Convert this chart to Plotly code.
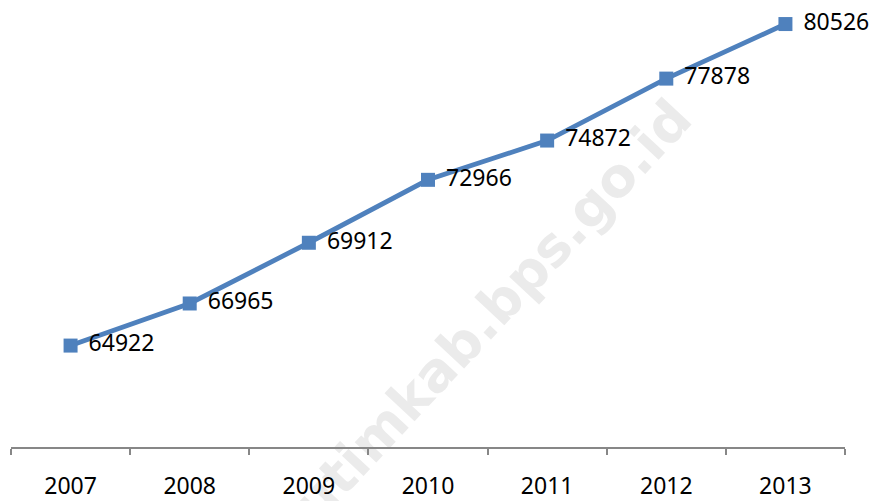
import plotly.graph_objects as go

years = ["2007", "2008", "2009", "2010", "2011", "2012", "2013"]
values = [64922, 66965, 69912, 72966, 74872, 77878, 80526]
labels = ["\u00a0\u200a" + str(v) for v in values]

blue = "#4F81BD"
font_family = "Noto Sans"

fig = go.Figure()
fig.add_trace(go.Scatter(
    x=years, y=values, mode="lines+markers+text",
    text=labels, textposition="middle right",
    textfont=dict(family=font_family, size=23, color="#000000"),
    line=dict(color=blue, width=4.8),
    marker=dict(symbol="square", size=14, color=blue, line=dict(width=0)),
    cliponaxis=False, showlegend=False,
))

# watermark, drawn beneath the data
cx, cy = (477 - 11) / (845 - 11), (456 - 328) / 456
fig.add_shape(
    type="rect", xref="paper", yref="paper",
    x0=cx - 0.05, x1=cx + 0.05, y0=cy - 0.05, y1=cy + 0.05,
    line=dict(width=0), fillcolor="rgba(0,0,0,0)", layer="below",
    label=dict(
        text="<b>kutimkab.bps.go.id</b>", textangle=-47,
        textposition="middle center",
        font=dict(family="DejaVu Sans", size=54, color="#ebebeb"),
    ),
)

fig.update_layout(
    width=869, height=501,
    margin=dict(l=11, r=24, t=0, b=45),
    plot_bgcolor="white", paper_bgcolor="white",
    xaxis=dict(
        type="category", range=[-0.5, 6.5],
        showline=True, linecolor="#878787", linewidth=1.5,
        ticks="outside", ticklen=6, tickcolor="#878787", tickwidth=1.5,
        tickson="boundaries", showgrid=False, zeroline=False,
        ticklabelstandoff=18,
        tickfont=dict(family=font_family, size=23, color="#000000"),
    ),
    yaxis=dict(
        range=[60000, 81693], visible=False, showgrid=False, zeroline=False,
    ),
)

fig.write_html("out.html", config={"displayModeBar": False},
               post_script="document.body.style.margin='0';")
